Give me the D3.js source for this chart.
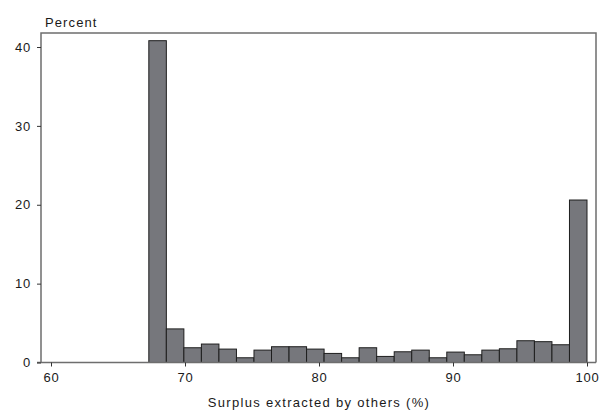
<!DOCTYPE html>
<meta charset="utf-8">
<style>
body { margin: 0; background: #fff; }
text { font-family: "Liberation Sans", Arial, sans-serif; }
.bar { fill: #76777c; stroke: #1e1e1e; stroke-width: 1px; }
.frame { fill: none; stroke: #6e6e6e; stroke-width: 1.5px; }
</style>
<body>
<script src="https://cdn.jsdelivr.net/npm/d3@7"></script>
<script>

// histogram bins (equal width, from 67.3 to 100)
var binStart = 67.3,
    binWidth = 1.308;
var percent = [40.8, 4.26, 1.87, 2.34, 1.70, 0.6, 1.57, 2.0, 2.0, 1.70,
               1.15, 0.6, 1.87, 0.77, 1.36, 1.57, 0.6, 1.32, 0.98, 1.57,
               1.74, 2.76, 2.64, 2.25, 20.6];
var xTicks = [60, 70, 80, 90, 100];
var yTicks = [0, 10, 20, 30, 40];

var width = 600, height = 410;

var x = d3.scaleLinear().domain([60, 100]).range([51, 587]);
var y = d3.scaleLinear().domain([0, 40]).range([362.5, 47]);

var svg = d3.select("body").append("svg")
    .attr("width", width)
    .attr("height", height);

// bars
svg.selectAll(".bar")
    .data(percent)
  .enter().append("rect")
    .attr("class", "bar")
    .attr("x", function(d, i) { return x(binStart + i * binWidth); })
    .attr("width", function(d, i) { return x(binStart + (i + 1) * binWidth) - x(binStart + i * binWidth); })
    .attr("y", function(d) { return y(d); })
    .attr("height", function(d) { return y(0) - y(d); });

// frame (top, left, right) + baseline
svg.append("path")
    .attr("class", "frame")
    .attr("d", "M41,362.5V33H596V362.5");
svg.append("line")
    .attr("x1", 37).attr("x2", 596)
    .attr("y1", y(0)).attr("y2", y(0))
    .attr("stroke", "#6e6e6e").attr("stroke-width", 1.5);

// x axis
var xAxis = svg.append("g")
    .attr("transform", "translate(0," + y(0) + ")")
    .call(d3.axisBottom(x).tickValues(xTicks).tickSize(4).tickPadding(6));
xAxis.select(".domain").remove();
xAxis.selectAll("line").attr("stroke", "#333");
xAxis.selectAll("text")
    .attr("fill", "#1a1a1a")
    .style("font-size", "13px")
    .style("letter-spacing", "0.8px");

// y axis
var yAxis = svg.append("g")
    .attr("transform", "translate(41,0)")
    .call(d3.axisLeft(y).tickValues(yTicks).tickSize(4).tickPadding(6));
yAxis.select(".domain").remove();
yAxis.selectAll("line").attr("stroke", "#333");
yAxis.selectAll("text")
    .attr("fill", "#1a1a1a")
    .style("font-size", "13px")
    .style("letter-spacing", "0.8px");

// labels
svg.append("text")
    .attr("x", 45)
    .attr("y", 27)
    .attr("fill", "#1a1a1a")
    .style("font-size", "13px")
    .style("letter-spacing", "1.1px")
    .text("Percent");

svg.append("text")
    .attr("x", 319)
    .attr("y", 407)
    .attr("text-anchor", "middle")
    .attr("fill", "#1a1a1a")
    .style("font-size", "13px")
    .style("letter-spacing", "1.3px")
    .text("Surplus extracted by others (%)");

</script>
</body>
